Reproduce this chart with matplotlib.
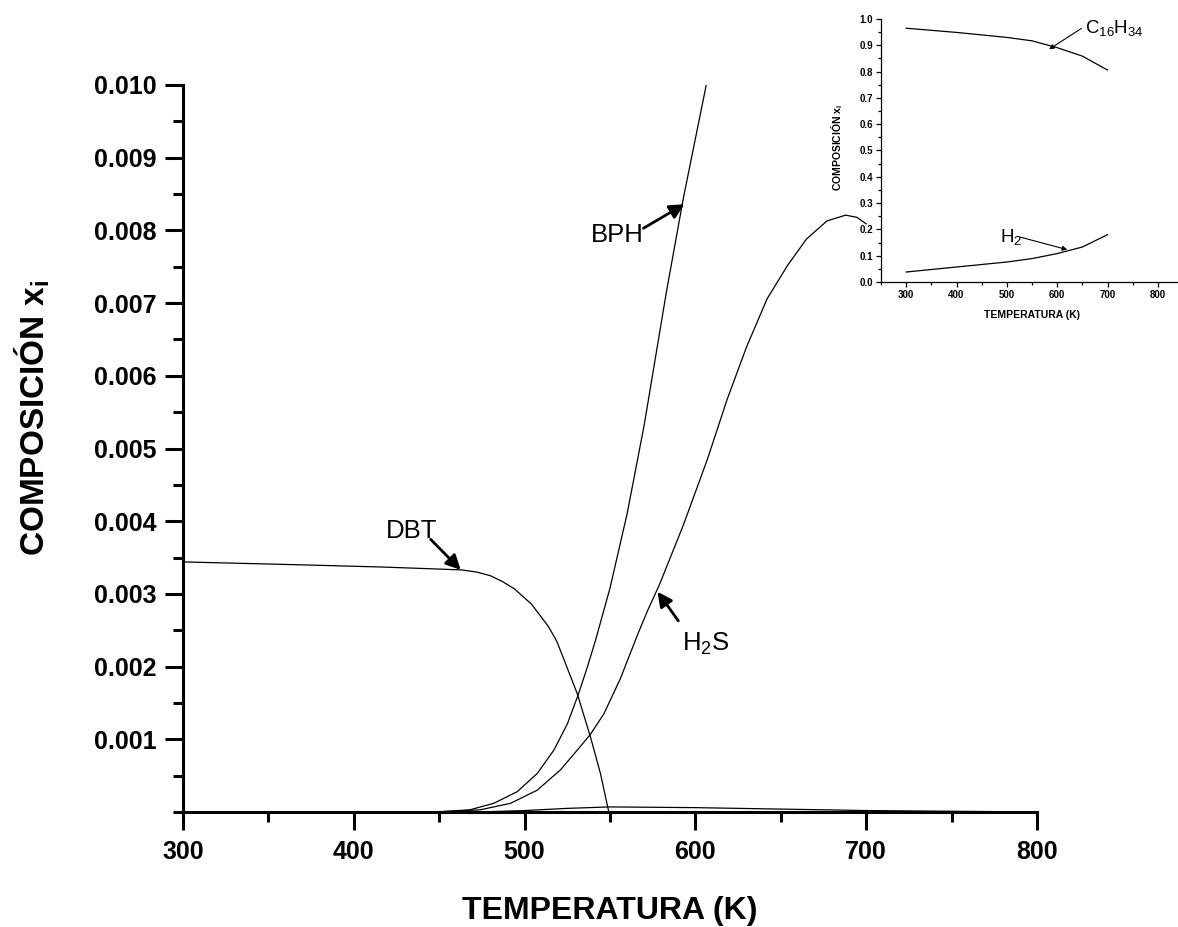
import numpy as np
import matplotlib.pyplot as plt
from matplotlib.ticker import MultipleLocator, FixedLocator

plt.rcParams['font.family'] = ['Liberation Sans', 'DejaVu Sans']
plt.rcParams['mathtext.fontset'] = 'custom'
plt.rcParams['mathtext.rm'] = 'Liberation Sans'
plt.rcParams['mathtext.bf'] = 'Liberation Sans:bold'
plt.rcParams['mathtext.it'] = 'Liberation Sans:italic'

# main plot data (temperature in K, mole fraction)
T_dbt = [300, 369, 416, 440, 463, 472, 480, 487, 494, 504, 514, 519, 530.8, 538.6, 544.4,
         549.3, 560, 600, 650, 700]
x_dbt = [0.00344, 0.00340, 0.00337, 0.00335, 0.00333, 0.00330, 0.00325, 0.00317, 0.00307,
         0.00286, 0.00255, 0.00234, 0.00163, 0.00103, 0.00053, 0.0, 0.0, 0.0, 0.0, 0.0]

T_bph = [300, 400, 450, 468, 482, 495.7, 507.4, 517.1, 525, 531.2, 536.7, 541.5, 550, 560,
         570, 583, 593, 606, 610]
x_bph = [0.0, 0.0, 0.000003, 0.00003, 0.00012, 0.00028, 0.00053, 0.00085, 0.00121, 0.00160,
         0.00199, 0.00236, 0.00308, 0.00410, 0.00532, 0.00715, 0.00845, 0.00996, 0.0105]

T_h2s = [300, 400, 450, 474, 491.8, 507.4, 521, 530.8, 538.6, 546.4, 556, 566, 572, 579,
         593, 607, 618.5, 630, 642, 654, 665, 677, 688, 694.5, 700]
x_h2s = [0.0, 0.0, 0.000003, 0.00003, 0.00012, 0.00030, 0.00058, 0.00085, 0.00107, 0.00135,
         0.00183, 0.00243, 0.00277, 0.00313, 0.00395, 0.00485, 0.00567, 0.00640, 0.00706,
         0.00752, 0.00788, 0.00813, 0.00821, 0.00818, 0.00809]

T_oth = [300, 450, 480, 500, 525, 550, 600, 650, 700, 750, 800]
x_oth = [0.0, 0.0, 0.000005, 0.00002, 0.00005, 0.00007, 0.00006, 0.00004, 0.00002, 0.00001, 0.0]

# inset data
T_in = [300, 400, 500, 550, 600, 650, 700]
x_c16 = [0.965, 0.949, 0.930, 0.917, 0.891, 0.859, 0.806]
x_h2 = [0.038, 0.057, 0.076, 0.089, 0.108, 0.133, 0.180]

y_ticks = [0.001, 0.002, 0.003, 0.004, 0.005, 0.006, 0.007, 0.008, 0.009, 0.010]
y_ticklabels = ['0.001', '0.002', '0.003', '0.004', '0.005', '0.006', '0.007', '0.008', '0.009', '0.010']

W, H = 1178, 927
fig = plt.figure(figsize=(W / 100, H / 100), dpi=100)

ax = fig.add_axes([183 / W, 1 - 812 / H, 854 / W, 727 / H])
lw = 0.9
ax.plot(T_dbt, x_dbt, color='k', lw=lw)
ax.plot(T_bph, x_bph, color='k', lw=lw)
ax.plot(T_h2s, x_h2s, color='k', lw=lw)
ax.plot(T_oth, x_oth, color='k', lw=lw)
ax.set_xlim(300, 800)
ax.set_ylim(0, 0.010)
for s in ['top', 'right']:
    ax.spines[s].set_visible(False)
for s in ['left', 'bottom']:
    ax.spines[s].set_linewidth(2.2)
ax.xaxis.set_major_locator(MultipleLocator(100))
ax.xaxis.set_minor_locator(MultipleLocator(50))
ax.yaxis.set_major_locator(FixedLocator(y_ticks))
ax.set_yticklabels(y_ticklabels)
ax.yaxis.set_minor_locator(MultipleLocator(0.0005))
ax.tick_params(which='major', direction='out', length=13, width=2.2, labelsize=18)
ax.tick_params(which='minor', direction='out', length=7.5, width=2.2)
ax.tick_params(axis='x', which='major', pad=7)
ax.tick_params(axis='y', which='major', pad=6)
for lab in ax.get_xticklabels() + ax.get_yticklabels():
    lab.set_fontweight('bold')

fig.text(610 / W, 1 - 911 / H, 'TEMPERATURA (K)', fontsize=23, fontweight='bold',
         ha='center', va='center')
fig.text(32 / W, 1 - 418 / H, r'COMPOSICIÓN x$_{\mathbf{i}}$', fontsize=24,
         fontweight='bold', rotation=90, ha='center', va='center')

arr = dict(arrowstyle='-|>', color='k', lw=2, mutation_scale=22, shrinkA=0, shrinkB=0)
ax.annotate('', xy=(462.6, 0.00333), xytext=(445, 0.00375), arrowprops=arr)
ax.text(418.7, 0.00377, 'DBT', fontsize=18.5, ha='left', va='baseline')
ax.annotate('', xy=(593.6, 0.00836), xytext=(569.6, 0.00803), arrowprops=arr)
ax.text(538.6, 0.00784, 'BPH', fontsize=18.5, ha='left', va='baseline')
ax.annotate('', xy=(577.8, 0.00303), xytext=(590, 0.00263), arrowprops=arr)
ax.text(592.4, 0.00222, r'H$_2$S', fontsize=18.5, ha='left', va='baseline')

# inset
ins = fig.add_axes([881 / W, 1 - 282 / H, 302 / W, 263 / H])
ins.patch.set_alpha(0)
ins.plot(T_in, x_c16, color='k', lw=0.9)
ins.plot(T_in, x_h2, color='k', lw=0.9)
ins.set_xlim(250, 850)
ins.set_ylim(0, 1.0)
for s in ['top', 'right']:
    ins.spines[s].set_visible(False)
for s in ['left', 'bottom']:
    ins.spines[s].set_linewidth(0.9)
ins.xaxis.set_major_locator(MultipleLocator(100))
ins.xaxis.set_minor_locator(MultipleLocator(50))
ins.yaxis.set_major_locator(MultipleLocator(0.1))
ins.yaxis.set_minor_locator(MultipleLocator(0.05))
ins.tick_params(which='major', direction='out', length=3.5, width=0.9, labelsize=7, pad=2)
ins.tick_params(which='minor', direction='out', length=2, width=0.9)
for lab in ins.get_xticklabels() + ins.get_yticklabels():
    lab.set_fontweight('bold')
fig.text(1032 / W, 1 - 315 / H, 'TEMPERATURA (K)', fontsize=7.5, fontweight='bold',
         ha='center', va='center')
fig.text(837 / W, 1 - 147 / H, r'COMPOSICIÓN x$_{\mathbf{i}}$', fontsize=7.5,
         fontweight='bold', rotation=90, ha='center', va='center')

arr_s = dict(arrowstyle='-|>', color='k', lw=0.8, mutation_scale=7, shrinkA=0, shrinkB=0)
ins.annotate('', xy=(584, 0.885), xytext=(648, 0.964), arrowprops=arr_s)
ins.text(655, 0.945, r'C$_{16}$H$_{34}$', fontsize=13.5, ha='left', va='baseline')
ins.annotate('', xy=(620, 0.123), xytext=(526, 0.171), arrowprops=arr_s)
ins.text(486, 0.152, r'H$_2$', fontsize=13.5, ha='left', va='baseline')

fig.savefig('out.png', dpi=100)
